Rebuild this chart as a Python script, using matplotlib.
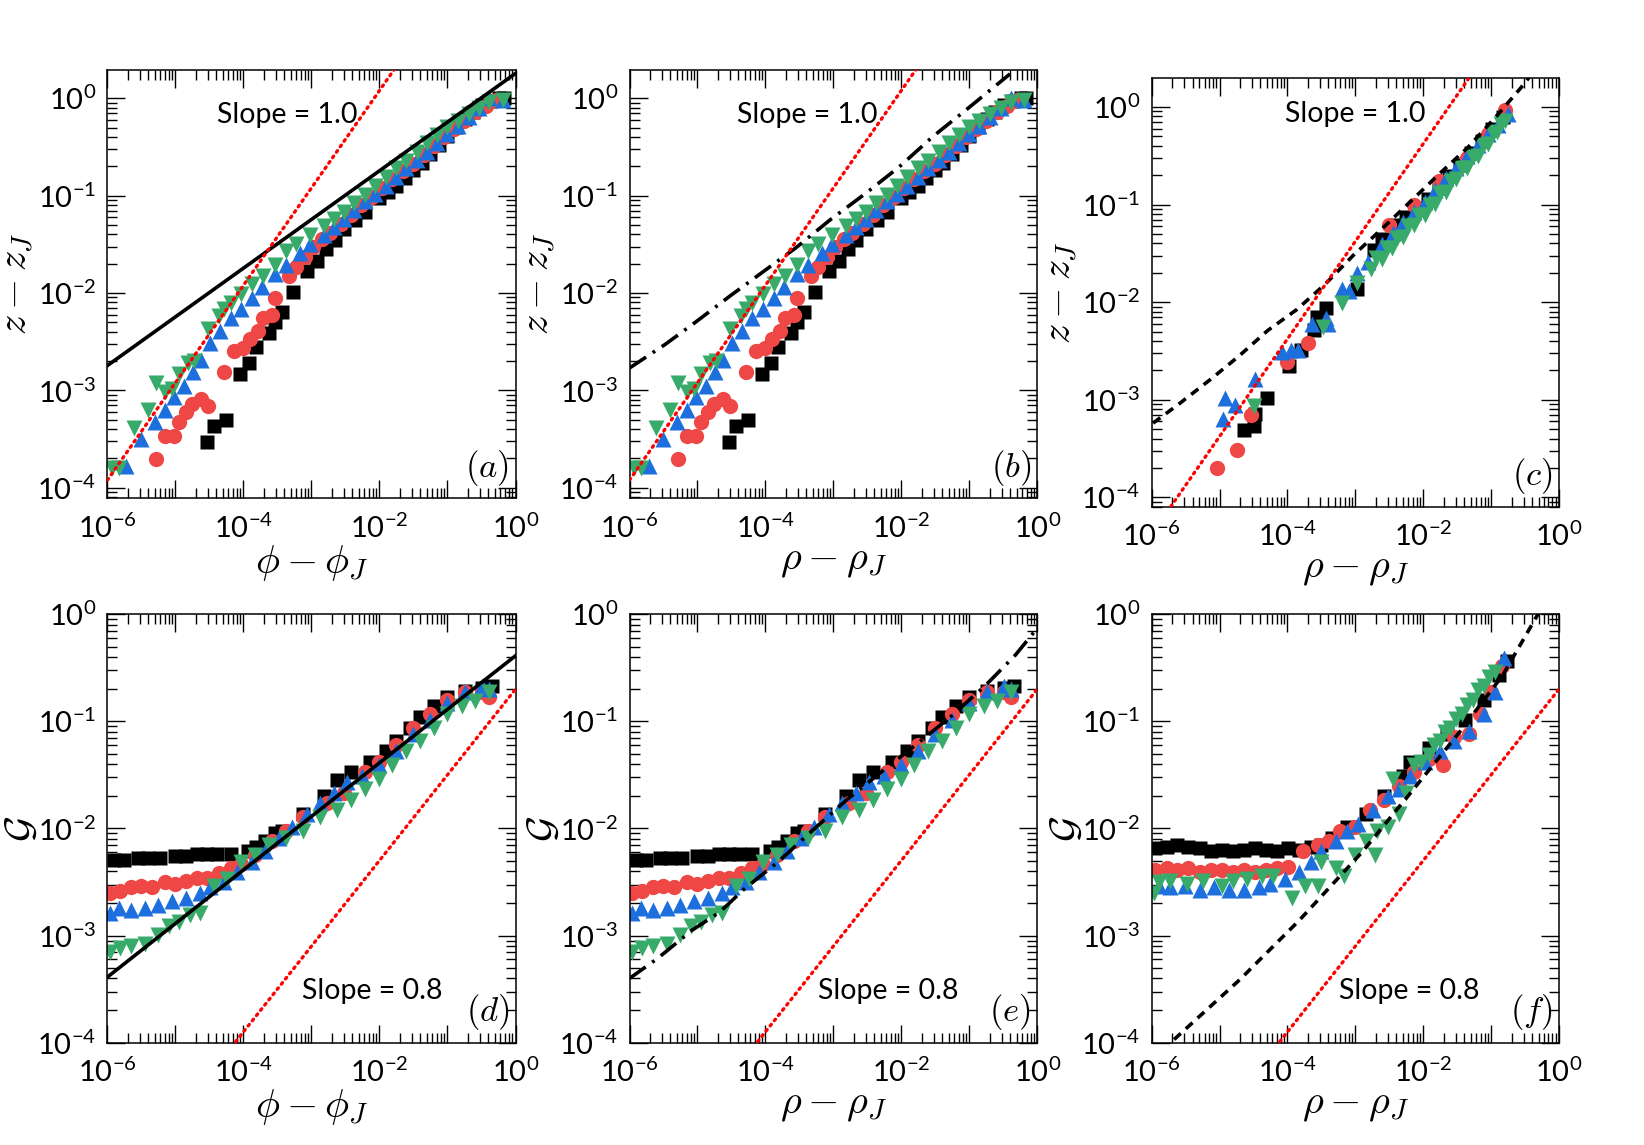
import numpy as np
import matplotlib
matplotlib.use("Agg")
import matplotlib.pyplot as plt
from matplotlib.ticker import LogLocator, FuncFormatter, NullFormatter

plt.rcParams['font.family'] = ['Lato', 'DejaVu Sans']
plt.rcParams['mathtext.fontset'] = 'cm'

# ---- data: log10 values ----
# z - z_J data (panels a, b)
z1_blk_lx = [-4.53, -4.44, -4.26, -4.05, -3.92, -3.81, -3.63, -3.53, -3.43, -3.27, -3.06, -2.92, -2.79, -2.66,
             -2.52, -2.36, -2.21, -2.01, -1.88, -1.76, -1.63, -1.50, -1.38, -1.25, -1.12, -1.00, -0.87, -0.74,
             -0.62, -0.49, -0.36, -0.24, -0.17]
z1_blk_ly = [-3.53, -3.37, -3.30, -2.83, -2.72, -2.55, -2.41, -2.30, -2.19, -1.99, -1.77, -1.67, -1.55, -1.46,
             -1.34, -1.25, -1.17, -1.02, -0.96, -0.90, -0.82, -0.74, -0.66, -0.57, -0.48, -0.39, -0.30, -0.21,
             -0.14, -0.07, -0.03, 0.0, 0.0]
z1_red_lx = [-5.29, -5.16, -5.02, -4.95, -4.85, -4.75, -4.62, -4.52, -4.29, -4.14, -4.01, -3.91, -3.79, -3.71,
             -3.58, -3.54, -3.33, -3.22, -3.10, -2.97, -2.85, -2.72, -2.57, -2.42, -2.27, -2.11, -1.96, -1.81,
             -1.66, -1.50, -1.35, -1.20, -1.05, -0.90, -0.75, -0.59, -0.44, -0.29]
z1_red_ly = [-3.70, -3.47, -3.47, -3.32, -3.22, -3.14, -3.09, -3.16, -2.81, -2.60, -2.56, -2.47, -2.39, -2.26,
             -2.23, -2.05, -1.82, -1.73, -1.63, -1.53, -1.45, -1.38, -1.29, -1.20, -1.10, -1.01, -0.92, -0.83,
             -0.75, -0.67, -0.58, -0.49, -0.40, -0.32, -0.23, -0.14, -0.08, -0.02]
z1_blu_lx = [-5.72, -5.50, -5.30, -5.15, -5.02, -4.87, -4.74, -4.62, -4.49, -4.34, -4.19, -4.04, -3.88, -3.73,
             -3.53, -3.38, -3.17, -3.02, -2.82, -2.67, -2.52, -2.37, -2.21, -2.06, -1.91, -1.76, -1.61, -1.45,
             -1.30, -1.15, -1.00, -0.85, -0.69, -0.54, -0.39, -0.19]
z1_blu_ly = [-3.78, -3.50, -3.32, -3.20, -3.07, -2.95, -2.81, -2.69, -2.51, -2.39, -2.26, -2.16, -2.05, -1.94,
             -1.80, -1.71, -1.59, -1.50, -1.40, -1.32, -1.24, -1.15, -1.06, -0.98, -0.90, -0.81, -0.72, -0.63,
             -0.55, -0.46, -0.37, -0.28, -0.19, -0.10, 0.00, -0.02]
z1_grn_lx = [-5.93, -5.83, -5.61, -5.40, -5.28, -5.16, -5.05, -4.95, -4.81, -4.72, -4.52, -4.36, -4.29, -4.19,
             -4.04, -3.88, -3.71, -3.53, -3.38, -3.23, -3.02, -2.82, -2.67, -2.52, -2.37, -2.21, -2.06, -1.91,
             -1.76, -1.61, -1.45, -1.30, -1.15, -1.00, -0.85, -0.69, -0.54, -0.39, -0.19]
z1_grn_ly = [-3.80, -3.80, -3.39, -3.20, -2.92, -3.02, -2.99, -2.83, -2.72, -2.70, -2.37, -2.24, -2.16, -2.10,
             -2.01, -1.91, -1.82, -1.71, -1.57, -1.50, -1.40, -1.31, -1.24, -1.17, -1.08, -0.99, -0.90, -0.81,
             -0.72, -0.64, -0.55, -0.46, -0.38, -0.30, -0.23, -0.16, -0.10, -0.04, -0.02]

# z - z_J data (panel c)
z2_blk_lx = [-4.64, -4.50, -4.48, -4.30, -3.98, -3.80, -3.61, -3.56, -3.43, -2.98, -2.72, -2.61, -2.40, -2.25,
             -2.09, -1.93, -1.77, -1.62, -1.46, -1.30, -1.14, -0.99, -0.83]
z2_blk_ly = [-3.31, -3.27, -3.15, -2.98, -2.65, -2.49, -2.29, -2.15, -2.06, -1.87, -1.47, -1.35, -1.21, -1.13,
             -1.04, -0.94, -0.83, -0.71, -0.59, -0.47, -0.35, -0.23, -0.10]
z2_red_lx = [-5.04, -4.74, -4.53, -4.01, -3.70, -2.51, -2.14, -1.77, -1.35, -1.04, -0.80]
z2_red_ly = [-3.70, -3.52, -3.16, -2.61, -2.42, -1.21, -1.00, -0.76, -0.52, -0.28, -0.03]
z2_blu_lx = [-4.95, -4.92, -4.77, -4.48, -4.08, -3.95, -3.85, -3.64, -3.43, -3.40, -3.19, -3.09, -2.98, -2.82,
             -2.61, -2.45, -2.30, -2.14, -1.98, -1.83, -1.67, -1.51, -1.35, -1.20, -1.04, -0.90, -0.75]
z2_blu_ly = [-3.20, -2.98, -3.05, -2.79, -2.51, -2.49, -2.49, -2.22, -2.16, -2.22, -1.87, -1.89, -1.70, -1.59,
             -1.40, -1.29, -1.18, -1.08, -0.97, -0.85, -0.73, -0.62, -0.50, -0.39, -0.28, -0.18, -0.07]
z2_grn_lx = [-4.50, -3.48, -3.19, -2.98, -2.77, -2.69, -2.61, -2.53, -2.46, -2.38, -2.30, -2.22, -2.14, -2.06,
             -1.98, -1.90, -1.83, -1.75, -1.67, -1.59, -1.51, -1.43, -1.35, -1.27, -1.20, -1.12, -1.04, -0.97,
             -0.91, -0.85, -0.80]
z2_grn_ly = [-3.06, -2.25, -2.01, -1.80, -1.66, -1.55, -1.56, -1.45, -1.44, -1.34, -1.33, -1.22, -1.21, -1.11,
             -1.11, -1.00, -0.99, -0.88, -0.87, -0.76, -0.74, -0.63, -0.62, -0.51, -0.50, -0.39, -0.38, -0.27,
             -0.26, -0.17, -0.14]

# G data (panels d, e)
g1_blk_lx = [-5.91, -5.76, -5.55, -5.40, -5.23, -5.00, -4.85, -4.69, -4.54, -4.39, -4.19, -3.93, -3.81, -3.68,
             -3.53, -3.43, -3.12, -2.82, -2.62, -2.42, -2.14, -1.91, -1.76, -1.55, -1.40, -1.20, -1.00, -0.74,
             -0.49, -0.34]
g1_blk_ly = [-2.29, -2.29, -2.28, -2.28, -2.28, -2.26, -2.26, -2.24, -2.24, -2.24, -2.24, -2.21, -2.17, -2.12,
             -2.04, -2.02, -1.86, -1.70, -1.55, -1.47, -1.38, -1.28, -1.18, -1.06, -0.96, -0.86, -0.77, -0.72,
             -0.69, -0.67]
g1_red_lx = [-5.96, -5.81, -5.66, -5.50, -5.35, -5.15, -5.00, -4.85, -4.69, -4.54, -4.36, -4.19, -4.04, -3.83,
             -3.58, -3.38, -3.12, -2.77, -2.52, -2.21, -2.01, -1.76, -1.50, -1.25, -1.00, -0.74, -0.49, -0.39]
g1_red_ly = [-2.60, -2.58, -2.55, -2.54, -2.55, -2.50, -2.52, -2.49, -2.46, -2.46, -2.42, -2.37, -2.33, -2.25,
             -2.12, -2.02, -1.89, -1.76, -1.67, -1.47, -1.38, -1.22, -1.06, -0.93, -0.80, -0.73, -0.73, -0.77]
g1_blu_lx = [-5.96, -5.83, -5.66, -5.45, -5.25, -5.05, -4.85, -4.64, -4.49, -4.29, -4.09, -3.88, -3.68, -3.48,
             -3.28, -3.07, -2.87, -2.67, -2.47, -2.26, -2.01, -1.76, -1.50, -1.25, -1.00, -0.74, -0.49, -0.39]
g1_blu_ly = [-2.79, -2.74, -2.76, -2.74, -2.71, -2.68, -2.65, -2.60, -2.55, -2.50, -2.41, -2.31, -2.21, -2.09,
             -1.99, -1.86, -1.76, -1.67, -1.57, -1.51, -1.41, -1.28, -1.12, -0.99, -0.83, -0.73, -0.67, -0.70]
g1_grn_lx = [-5.96, -5.81, -5.66, -5.45, -5.25, -5.10, -4.95, -4.79, -4.64, -4.44, -4.24, -4.04, -3.83, -3.63,
             -3.38, -3.12, -2.87, -2.62, -2.42, -2.21, -2.01, -1.81, -1.61, -1.40, -1.20, -1.00, -0.79, -0.59,
             -0.39]
g1_grn_ly = [-3.15, -3.12, -3.10, -3.08, -2.99, -2.91, -2.87, -2.81, -2.79, -2.54, -2.47, -2.31, -2.25, -2.15,
             -2.09, -2.02, -1.89, -1.83, -1.73, -1.63, -1.54, -1.41, -1.28, -1.18, -1.06, -0.93, -0.86, -0.81,
             -0.73]

# G data (panel f)
g2_blk_lx = [-5.95, -5.78, -5.62, -5.46, -5.29, -5.13, -4.97, -4.80, -4.64, -4.48, -4.32, -4.15, -3.99, -3.83,
             -3.66, -3.50, -3.34, -3.12, -2.85, -2.58, -2.30, -2.20, -1.92, -1.65, -1.38, -1.11, -0.89, -0.76]
g2_blk_ly = [-2.18, -2.17, -2.15, -2.17, -2.18, -2.21, -2.20, -2.21, -2.20, -2.18, -2.20, -2.21, -2.18, -2.20,
             -2.17, -2.15, -2.09, -1.99, -1.86, -1.70, -1.51, -1.38, -1.25, -1.12, -0.99, -0.80, -0.57, -0.44]
g2_red_lx = [-5.95, -5.78, -5.62, -5.46, -5.29, -5.13, -4.97, -4.80, -4.64, -4.48, -4.32, -4.15, -3.99, -3.77,
             -3.55, -3.39, -3.23, -3.01, -2.79, -2.58, -2.36, -2.14, -1.92, -1.71, -1.54, -1.33, -1.16, -1.00,
             -0.84]
g2_red_ly = [-2.39, -2.37, -2.39, -2.37, -2.41, -2.39, -2.39, -2.41, -2.39, -2.41, -2.39, -2.37, -2.36, -2.21,
             -2.15, -2.12, -2.02, -1.99, -1.83, -1.73, -1.60, -1.47, -1.35, -1.41, -1.15, -1.12, -0.93, -0.73,
             -0.48]
g2_blu_lx = [-5.89, -5.73, -5.51, -5.29, -5.08, -4.86, -4.64, -4.42, -4.26, -4.04, -3.83, -3.66, -3.50, -3.28,
             -3.12, -2.96, -2.74, -2.52, -2.36, -2.20, -1.98, -1.76, -1.54, -1.33, -1.11, -0.95, -0.81]
g2_blu_ly = [-2.54, -2.55, -2.54, -2.57, -2.55, -2.57, -2.57, -2.55, -2.52, -2.47, -2.41, -2.31, -2.21, -2.12,
             -2.02, -1.96, -1.83, -1.70, -1.63, -1.51, -1.38, -1.28, -1.18, -1.09, -0.93, -0.73, -0.41]
g2_grn_lx = [-5.97, -5.89, -5.73, -5.48, -5.24, -4.97, -4.80, -4.59, -4.37, -4.21, -3.93, -3.74, -3.55, -3.50,
             -3.28, -3.17, -3.01, -2.85, -2.71, -2.68, -2.52, -2.44, -2.36, -2.25, -2.14, -2.03, -1.92, -1.84,
             -1.76, -1.68, -1.60, -1.52, -1.43, -1.35, -1.27, -1.19, -1.11, -1.03, -0.95]
g2_grn_ly = [-2.60, -2.50, -2.49, -2.52, -2.49, -2.54, -2.49, -2.47, -2.44, -2.44, -2.65, -2.54, -2.54, -2.31,
             -2.37, -2.44, -2.25, -2.12, -2.25, -2.02, -1.99, -1.54, -1.86, -1.67, -1.41, -1.38, -1.31, -1.22,
             -1.18, -1.10, -1.06, -0.98, -0.93, -0.85, -0.80, -0.71, -0.67, -0.59, -0.54]

b_dd_lx = [-6.0, -5.48, -5.03, -4.52, -4.07, -3.56, -3.05, -2.55, -2.04, -1.53, -1.03, -0.47, -0.40]
b_dd_ly = [-2.77, -2.53, -2.30, -2.03, -1.80, -1.54, -1.25, -0.99, -0.71, -0.39, -0.11, 0.21, 0.25]
c_dash_lx = [-5.98, -5.61, -5.13, -4.71, -4.29, -3.87, -3.45, -3.03, -2.61, -2.19, -1.77, -1.35, -0.93, -0.57,
             -0.41]
c_dash_ly = [-3.24, -3.05, -2.79, -2.55, -2.29, -2.08, -1.82, -1.52, -1.25, -0.97, -0.69, -0.42, -0.10, 0.19,
             0.33]
e_dd_lx = [-6.0, -5.58, -5.08, -4.67, -4.32, -3.81, -3.31, -2.80, -2.29, -1.79, -1.28, -0.77, -0.32, 0.0]
e_dd_ly = [-3.40, -3.21, -2.95, -2.78, -2.57, -2.31, -2.02, -1.73, -1.47, -1.22, -0.96, -0.67, -0.38, -0.13]
f_dash_lx = [-5.67, -4.70, -3.83, -2.90, -2.19, -1.49, -0.83, -0.32, -0.15]
f_dash_ly = [-3.97, -3.41, -2.86, -2.22, -1.67, -1.12, -0.57, -0.01, 0.15]

# power-law guides: prefactor, exponent
solid_a = (1.8, 0.5)
solid_d = (0.41, 0.5)
red_ab = (120.0, 1.0)
red_c = (42.0, 1.0)
red_def = (0.2, 0.8)

panel_tags = ['a', 'b', 'c', 'd', 'e', 'f']
xlabels = [r'$\phi - \phi_J$', r'$\rho - \rho_J$', r'$\rho - \rho_J$',
           r'$\phi - \phi_J$', r'$\rho - \rho_J$', r'$\rho - \rho_J$']
ylab_top = r'$z - z_J$'
ylab_bot = r'$\mathcal{G}$'

c_blk, c_red, c_blu, c_grn = '#000000', '#ef4646', '#1c6fdd', '#38ab6b'

fig = plt.figure(figsize=(16.44, 11.45), dpi=100)
W, H = 1644, 1145
boxes = [(107.4, 69.6, 408.1, 428.7), (629.5, 69.6, 407.7, 428.7), (1151.7, 78.3, 407.3, 428.4),
         (107.4, 614.3, 408.1, 428.4), (629.5, 614.3, 407.7, 428.4), (1151.7, 614.3, 407.3, 428.4)]
axes = [fig.add_axes([x / W, 1 - (y + h) / H, w / W, h / H]) for x, y, w, h in boxes]

xx = np.logspace(-6, 0, 300)


def scatter(ax, data):
    for (lx, ly), c, m, ms in zip(data, [c_blk, c_red, c_blu, c_grn], ['s', 'o', '^', 'v'],
                                  [10, 11, 11.5, 11.5]):
        ax.plot(10 ** np.array(lx), 10 ** np.array(ly), ls='none', marker=m, ms=ms, color=c,
                mec='none', zorder=2)


def red_line(ax, p):
    ax.plot(xx, p[0] * xx ** p[1], color='#ff0000', ls=(0, (0.55, 1.45)), lw=2.4,
            dash_capstyle='round', zorder=4)


z1 = [(z1_blk_lx, z1_blk_ly), (z1_red_lx, z1_red_ly), (z1_blu_lx, z1_blu_ly), (z1_grn_lx, z1_grn_ly)]
z2 = [(z2_blk_lx, z2_blk_ly), (z2_red_lx, z2_red_ly), (z2_blu_lx, z2_blu_ly), (z2_grn_lx, z2_grn_ly)]
g1 = [(g1_blk_lx, g1_blk_ly), (g1_red_lx, g1_red_ly), (g1_blu_lx, g1_blu_ly), (g1_grn_lx, g1_grn_ly)]
g2 = [(g2_blk_lx, g2_blk_ly), (g2_red_lx, g2_red_ly), (g2_blu_lx, g2_blu_ly), (g2_grn_lx, g2_grn_ly)]

dashdot = (0, (5.5, 2.2, 0.8, 2.2))
dashed = (0, (2.5, 1.9))

# (a)
ax = axes[0]
scatter(ax, z1)
ax.plot(xx, solid_a[0] * xx ** solid_a[1], color='k', lw=2.6, zorder=3)
red_line(ax, red_ab)
# (b)
ax = axes[1]
scatter(ax, z1)
ax.plot(10 ** np.array(b_dd_lx), 10 ** np.array(b_dd_ly), color='k', lw=2.6, ls=dashdot, zorder=3)
red_line(ax, red_ab)
# (c)
ax = axes[2]
scatter(ax, z2)
ax.plot(10 ** np.array(c_dash_lx), 10 ** np.array(c_dash_ly), color='k', lw=2.6, ls=dashed, zorder=3)
red_line(ax, red_c)
# (d)
ax = axes[3]
scatter(ax, g1)
ax.plot(xx, solid_d[0] * xx ** solid_d[1], color='k', lw=2.6, zorder=3)
red_line(ax, red_def)
# (e)
ax = axes[4]
scatter(ax, g1)
ax.plot(10 ** np.array(e_dd_lx), 10 ** np.array(e_dd_ly), color='k', lw=2.6, ls=dashdot, zorder=3)
red_line(ax, red_def)
# (f)
ax = axes[5]
scatter(ax, g2)
ax.plot(10 ** np.array(f_dash_lx), 10 ** np.array(f_dash_ly), color='k', lw=2.6, ls=dashed, zorder=3)
red_line(ax, red_def)


def even_exp(v, pos):
    e = int(round(np.log10(v)))
    if e % 2:
        return ''
    return r'$\mathdefault{10^{%d}}$' % e


slope_pos = [(0.44, 0.893), (0.435, 0.893), (0.50, 0.917), (0.648, 0.121), (0.635, 0.121), (0.633, 0.121)]
slope_txt = ['Slope = 1.0'] * 3 + ['Slope = 0.8'] * 3
ylab_x = [-0.175, -0.175, -0.175, -0.165, -0.165, -0.165]

for i, ax in enumerate(axes):
    ax.set_xscale('log')
    ax.set_yscale('log')
    ax.set_xlim(1e-6, 1)
    if i < 2:
        ax.set_ylim(7.8e-5, 1.97)
    elif i == 2:
        ax.set_ylim(8.0e-5, 1.97)
    else:
        ax.set_ylim(1e-4, 1)
    ax.xaxis.set_major_locator(LogLocator(base=10, numticks=20))
    ax.yaxis.set_major_locator(LogLocator(base=10, numticks=20))
    ax.xaxis.set_minor_locator(LogLocator(base=10, subs=np.arange(2, 10), numticks=20))
    ax.yaxis.set_minor_locator(LogLocator(base=10, subs=np.arange(2, 10), numticks=20))
    ax.xaxis.set_major_formatter(FuncFormatter(even_exp))
    ax.xaxis.set_minor_formatter(NullFormatter())
    ax.yaxis.set_minor_formatter(NullFormatter())
    ax.tick_params(which='both', direction='in', top=True, right=True, labelsize=21, width=1.0)
    ax.tick_params(which='major', length=13)
    ax.tick_params(which='minor', length=7)
    ax.tick_params(axis='x', which='major', pad=11)
    ax.tick_params(axis='y', which='major', pad=8)
    for s in ax.spines.values():
        s.set_linewidth(1.1)
    ax.set_xlabel(xlabels[i], fontsize=29, labelpad=0)
    if i < 3:
        ax.set_ylabel(ylab_top, fontsize=29)
    else:
        ax.set_ylabel(ylab_bot, fontsize=29)
    ax.yaxis.set_label_coords(ylab_x[i], 0.5)
    ax.text(0.985, 0.025, r'$(%s)$' % panel_tags[i], transform=ax.transAxes, ha='right', va='bottom',
            fontsize=25, zorder=6)
    ax.text(*slope_pos[i], slope_txt[i], transform=ax.transAxes, ha='center', va='center',
            fontsize=20.5, zorder=6)

fig.savefig('out.png', dpi=100)
